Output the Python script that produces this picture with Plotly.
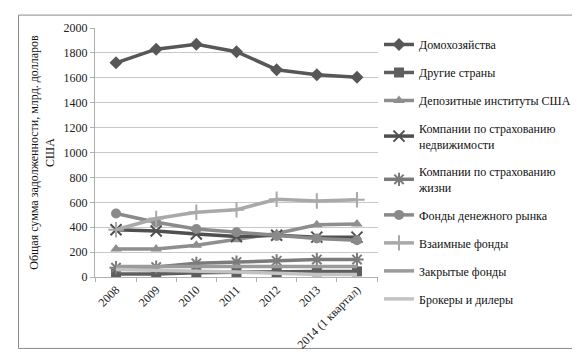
import plotly.graph_objects as go

categories = ["2008", "2009", "2010", "2011", "2012", "2013", "2014 (1 квартал)"]

series_names = [
    "Домохозяйства",
    "Другие страны",
    "Депозитные институты США",
    "Компании по страхованию<br>недвижимости",
    "Компании по страхованию<br>жизни",
    "Фонды денежного рынка",
    "Взаимные фонды",
    "Закрытые фонды",
    "Брокеры и дилеры",
]

households = [1720, 1830, 1870, 1810, 1665, 1625, 1605]
other_countries = [25, 25, 35, 40, 40, 45, 45]
deposit_inst = [225, 225, 255, 300, 350, 420, 425]
property_ins = [380, 370, 345, 325, 335, 320, 320]
life_ins = [75, 80, 110, 120, 130, 140, 140]
money_market = [510, 440, 385, 360, 330, 310, 295]
mutual_funds = [380, 470, 520, 540, 625, 610, 620]
closed_funds = [85, 85, 85, 85, 85, 85, 85]
brokers = [60, 55, 50, 40, 30, 20, 20]

values = [households, other_countries, deposit_inst, property_ins, life_ins,
          money_market, mutual_funds, closed_funds, brokers]

colors = ["#575757", "#5e5e5e", "#8e8e8e", "#4f4f4f", "#7b7b7b",
          "#8a8a8a", "#a9a9a9", "#9b9b9b", "#c3c3c3"]
symbols = ["diamond", "square", "triangle-up", "x-thin", "asterisk-open",
           "circle", "cross-thin", None, None]

fig = go.Figure()
for name, vals, col, sym in zip(series_names, values, colors, symbols):
    if sym is None:
        mode = "lines"
        marker = dict()
    else:
        mode = "lines+markers"
        if sym in ("x-thin", "asterisk-open", "cross-thin"):
            marker = dict(symbol=sym, size=11, color=col, line=dict(color=col, width=2))
        else:
            marker = dict(symbol=sym, size=10, color=col)
    fig.add_trace(go.Scatter(
        x=categories, y=vals, name=name, mode=mode,
        line=dict(color=col, width=3.5), marker=marker,
        legendgroup=name,
    ))

fig.update_layout(
    width=580, height=356,
    margin=dict(l=87, r=208, t=20, b=85),
    paper_bgcolor="white", plot_bgcolor="white",
    font=dict(family="Liberation Serif, Times New Roman, serif", size=12, color="#222"),
    showlegend=True,
    legend=dict(
        x=(373 - 87) / 285, y=(271 - 22) / 251, xanchor="left", yanchor="top",
        font=dict(size=12, color="#111"),
        tracegroupgap=9, itemwidth=30, maxheight=340,
        bgcolor="rgba(0,0,0,0)",
    ),
    xaxis=dict(
        type="category", tickangle=-45, showgrid=False,
        showline=True, linecolor="#b0b0b0", ticks="outside", tickcolor="#b0b0b0",
        ticklen=4, tickson="boundaries",
        tickfont=dict(size=12, color="#222"),
    ),
    yaxis=dict(
        range=[0, 2000], dtick=200, showgrid=True, gridcolor="#c8c8c8",
        showline=True, linecolor="#b0b0b0", ticks="outside", tickcolor="#b0b0b0",
        ticklen=4, zeroline=False,
        tickfont=dict(size=12, color="#222"),
        title=dict(text="Общая сумма задолженности, млрд. долларов<br>США",
                   font=dict(size=12, color="#111"), standoff=6),
    ),
    shapes=[dict(type="rect", xref="paper", yref="paper",
                 x0=-77/285, x1=(574-87)/285, y0=-(343-271)/251, y1=(271-7)/251,
                 line=dict(color="#8a8a8a", width=1), fillcolor="rgba(0,0,0,0)",
                 layer="below")],
)

fig.write_html("out.html")
